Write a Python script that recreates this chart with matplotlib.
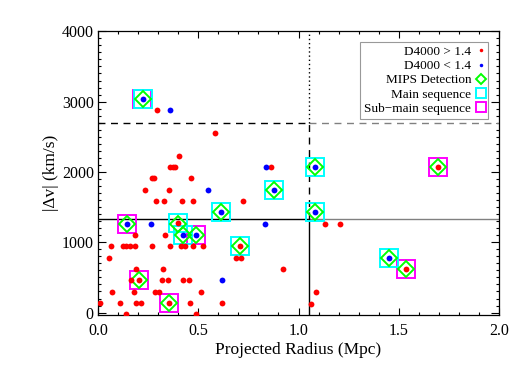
import numpy as np
import matplotlib
matplotlib.use('Agg')
import matplotlib.pyplot as plt
from matplotlib.ticker import MultipleLocator, FormatStrFormatter

plt.rcParams['font.family'] = ['Liberation Serif', 'DejaVu Serif']

# D4000 > 1.4 (red)
r_red = [0.582, 0.296, 0.403, 0.358, 0.372, 0.386, 0.865,
         0.269, 0.281, 0.466, 0.233, 0.353,
         0.291, 0.328, 0.421, 0.476, 0.722,
         0.397, 1.134, 1.206, 0.183, 0.333,
         0.063, 0.125, 0.142, 0.158, 0.186, 0.269, 0.358, 0.416, 0.436, 0.474, 0.524, 0.707,
         0.055, 0.690, 0.715,
         0.191, 0.324, 0.923, 1.538,
         0.166, 0.205, 0.319, 0.347, 0.424, 0.453,
         0.071, 0.178, 0.283, 0.305, 0.514, 1.089,
         0.009, 0.111, 0.190, 0.215, 0.356, 0.461, 0.620, 1.064,
         0.142, 0.491, 1.696]
v_red = [2550, 2880, 2230, 2070, 2070, 2070, 2070,
         1910, 1910, 1910, 1750, 1750,
         1590, 1590, 1590, 1590, 1590,
         1270, 1263, 1263, 1100, 1100,
         940, 940, 940, 940, 940, 940, 940, 940, 940, 940, 940, 940,
         775, 775, 775,
         625, 625, 625, 620,
         460, 460, 460, 460, 460, 460,
         295, 295, 295, 295, 295, 295,
         136, 136, 136, 136, 136, 136, 136, 126,
         -25, -25, 2070]

# D4000 < 1.4 (blue)
r_blue = [0.224, 0.358, 0.840, 1.081, 0.549, 0.877, 0.613, 1.081,
          0.145, 0.263, 0.831, 0.426, 0.488, 1.451, 0.617]
v_blue = [3040, 2880, 2070, 2070, 1750, 1750, 1425, 1425,
          1263, 1263, 1263, 1100, 1100, 775, 458]

# deteccion MIPS
r_mips = [0.224, 1.081, 1.696, 0.877, 0.613, 1.081, 0.145, 0.400,
          0.426, 0.488, 0.707, 1.451, 1.538, 0.205, 0.356]
v_mips = [3040, 2070, 2070, 1750, 1425, 1425, 1263, 1265,
          1100, 1100, 940, 775, 620, 460, 136]

# main sequence
r_ms = [0.224, 1.081, 0.877, 0.613, 1.081, 0.400, 0.426, 0.707, 1.451]
v_ms = [3040, 2070, 1750, 1425, 1425, 1270, 1100, 940, 775]

# sub-main sequence
r_sub = [0.218, 1.696, 0.145, 0.488, 1.538, 0.205, 0.356]
v_sub = [3040, 2070, 1263, 1100, 620, 460, 136]

# cortes
r_cut = 1.05
v_hi = 2700
v_lo = 1330

fig = plt.figure(figsize=(5.29, 3.78), dpi=100)
ax = fig.add_axes([0.1853, 0.1675, 0.758, 0.7497])

ax.plot([0, r_cut], [v_hi, v_hi], color='black', ls=(0, (5, 4)), lw=1)
ax.plot([r_cut, 2], [v_hi, v_hi], color='grey', ls=(0, (5, 4)), lw=1)
ax.plot([0, r_cut], [v_lo, v_lo], color='black', lw=1)
ax.plot([r_cut, 2], [v_lo, v_lo], color='grey', lw=1)
ax.plot([r_cut, r_cut], [v_hi, 4000], color='black', ls=(0, (1, 2)), lw=1)
ax.plot([r_cut, r_cut], [v_lo, v_hi], color='black', ls=(0, (5, 4)), lw=1)
ax.plot([r_cut, r_cut], [-30, v_lo], color='black', lw=1)

ax.plot(r_sub, v_sub, 's', ms=12.5, mfc='none', mec='#ff00ff', mew=1.4, ls='none',
        label='Sub\u2212main sequence', zorder=3)
ax.plot(r_ms, v_ms, 's', ms=12.5, mfc='none', mec='#00ffff', mew=1.4, ls='none',
        label='Main sequence', zorder=4)
ax.plot(r_mips, v_mips, 'D', ms=8, mfc='none', mec='#00ff00', mew=1.4, ls='none',
        label='MIPS Detection', zorder=5)
ax.plot(r_red, v_red, 'o', ms=4.2, color='#ff0000', mec='none', ls='none',
        label='D4000 > 1.4', zorder=6)
ax.plot(r_blue, v_blue, 'o', ms=4.2, color='#0000ff', mec='none', ls='none',
        label='D4000 < 1.4', zorder=6)

ax.set_xlim(0, 2)
ax.set_ylim(-30, 4000)
ax.xaxis.set_major_locator(MultipleLocator(0.5))
ax.xaxis.set_minor_locator(MultipleLocator(0.1))
ax.yaxis.set_major_locator(MultipleLocator(1000))
ax.yaxis.set_minor_locator(MultipleLocator(100))
ax.xaxis.set_major_formatter(FormatStrFormatter('%.1f'))
ax.tick_params(which='both', direction='in', top=True, right=True, labelsize=11.5, width=0.8)
ax.tick_params(axis='x', which='major', length=5, pad=6)
ax.tick_params(axis='x', which='minor', length=2.5)
ax.tick_params(axis='y', which='major', length=6, pad=3)
ax.tick_params(axis='y', which='minor', length=2.5)
for s in ax.spines.values():
    s.set_linewidth(0.9)

ax.set_xlabel('Projected Radius (Mpc)', fontsize=12.5, labelpad=2)
ax.set_ylabel('|\u0394v| (km/s)', fontsize=12.5, labelpad=2)

h, l = ax.get_legend_handles_labels()
order = [3, 4, 2, 1, 0]
leg = ax.legend([h[i] for i in order], [l[i] for i in order], loc='upper right',
                markerfirst=False, fontsize=9.5, frameon=True, fancybox=False,
                edgecolor='grey', borderpad=0.3, labelspacing=0.15, handlelength=0.6,
                handletextpad=0.4, borderaxespad=0.8, markerscale=0.6)
leg.get_frame().set_linewidth(0.8)
leg._legend_box.align = 'right'

fig.savefig('out.png', dpi=100)
